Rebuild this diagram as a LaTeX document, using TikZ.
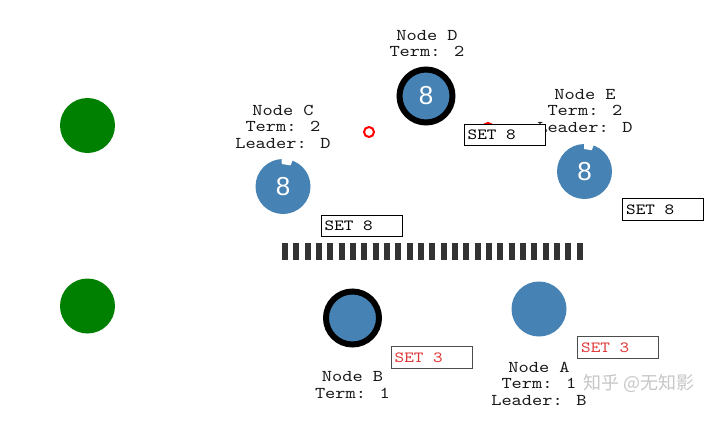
\documentclass[tikz,border=0pt]{standalone}
\usepackage{fontspec}
\usetikzlibrary{calc}
\newfontfamily\labfont[FakeStretch=1.18]{lmmono10-regular.otf}
\newfontfamily\numfont{Liberation Sans}
\newfontfamily\cjkfont{Noto Sans CJK SC}
\definecolor{nodeblue}{HTML}{4682B4}
\definecolor{leadgreen}{HTML}{008000}
\definecolor{setred}{HTML}{E03535}
\definecolor{bargray}{HTML}{333333}
\tikzset{
  srv/.style={circle, fill=nodeblue, draw=none, minimum size=55pt, inner sep=0pt, text=white, font=\numfont\fontsize{26}{26}\selectfont},
  leaderring/.style={circle, fill=nodeblue, draw=black, line width=6pt, minimum size=53pt, inner sep=0pt, text=white, font=\numfont\fontsize{26}{26}\selectfont},
  client/.style={circle, fill=leadgreen, draw=none, minimum size=55pt, inner sep=0pt},
  lab/.style={align=center, font=\labfont\fontsize{16.5}{16.5}\selectfont, text=black!90, inner sep=0pt},
  msgbox/.style={draw=black, line width=1.3pt, fill=white, minimum width=81pt, minimum height=21.5pt, inner sep=0pt, anchor=north west, font=\labfont\fontsize{15.5}{15.5}\selectfont},
  redmark/.style={circle, draw=red, line width=2pt, minimum size=10pt, inner sep=0pt},
  notch/.style={fill=white, draw=none}
}
\newcommand{\settxt}[1]{\makebox[78pt][l]{\hspace{2pt}#1}}
\begin{document}
\begin{tikzpicture}[x=1pt, y=-1pt]
\useasboundingbox (0,0) rectangle (705,426);
\fill[white] (0,0) rectangle (705,426);
% clients
\node[client] (g1) at (87.5,125.5) {};
\node[client] (g2) at (87.5,306) {};
% red markers
\node[redmark] (r1) at (369,132) {};
\node[redmark] (r2) at (488,128) {};
% servers
\node[leaderring] (D) at (426,96) {8};
\node[srv] (C) at (283,186.5) {8};
\node[srv] (E) at (584.5,171.5) {8};
\node[leaderring] (B) at (352.5,318) {};
\node[srv] (A) at (539,309) {};
% notches (election timers)
\fill[notch] ($(C)+(-93:29)$) -- ($(C)+(-93:22.5)$) -- ($(C)+(-70:22.5)$) -- ($(C)+(-70:29)$) -- cycle;
\fill[notch] ($(E)+(-91:29)$) -- ($(E)+(-91:22.5)$) -- ($(E)+(-71:22.5)$) -- ($(E)+(-71:29)$) -- cycle;
% labels
\node[lab] (labD) at (427,43.5) {Node D\\Term: 2};
\node[lab] (labC) at (283,126.5) {Node C\\Term: 2\\Leader: D};
\node[lab] (labE) at (585,111) {Node E\\Term: 2\\Leader: D};
\node[lab] (labB) at (352.5,385) {Node B\\Term: 1};
\node[lab] (labA) at (539,383.5) {Node A\\Term: 1\\Leader: B};
% message boxes
\node[msgbox] (m1) at (463.5,123.5) {\settxt{SET 8}};
\node[msgbox] (m2) at (622,198) {\settxt{SET 8}};
\node[msgbox] (m3) at (320.5,214.5) {\settxt{SET 8}};
\node[msgbox, draw=black!70, text=setred] (m4) at (390.5,346) {\settxt{SET 3}};
\node[msgbox, draw=black!70, text=setred] (m5) at (577,336) {\settxt{SET 3}};
% partition bar
\draw[bargray, line width=17pt, dash pattern=on 6pt off 5.33pt] (282,251.5) -- (583,251.5);
% watermark
\begin{scope}
\clip (0,0) rectangle (705,426);
\node[anchor=west, text=black!22, font=\cjkfont\fontsize{18}{18}\selectfont, inner sep=0pt] (wm) at (583,383) {知乎 @无知影};
\end{scope}
\end{tikzpicture}
\end{document}
